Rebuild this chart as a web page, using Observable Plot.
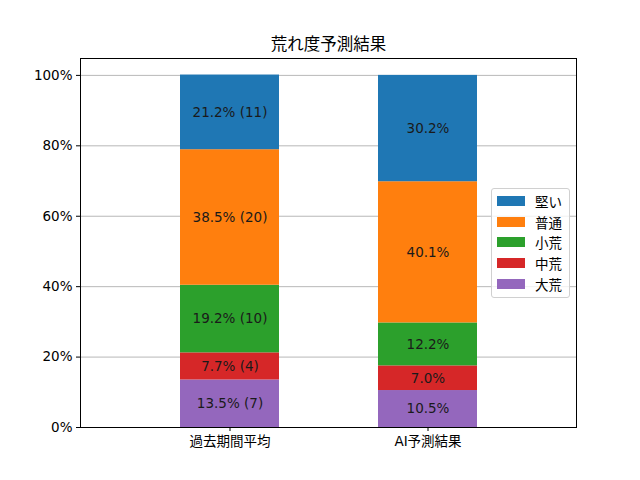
<!DOCTYPE html>
<html>
<head>
<meta charset="utf-8">
<script src="https://cdn.jsdelivr.net/npm/d3@7"></script>
<script src="https://cdn.jsdelivr.net/npm/@observablehq/plot@0.6"></script>
<style>
  body { margin: 0; background: #fff; }
  #wrap { position: relative; width: 640px; height: 480px; font-family: "DejaVu Sans", "Noto Sans CJK JP", sans-serif; }
  #legend { position: absolute; left: 491px; top: 188px; width: 79px; box-sizing: border-box; white-space: nowrap;
    border: 1px solid #d0d0d0; border-radius: 3px; background: rgba(255,255,255,0.8); padding: 2px 4px 3px 5px; font-size: 13.5px; color: #000; }
  #legend .item { display: flex; align-items: center; height: 20.6px; }
  #legend .sw { flex: none; width: 28px; height: 10px; margin-right: 10px; }
</style>
</head>
<body>
<div id="wrap"><div id="chart"></div><div id="legend"></div></div>
<script>
const title = "荒れ度予測結果";
const groups = ["過去期間平均", "AI予測結果"];
const categories = ["大荒", "中荒", "小荒", "普通", "堅い"]; // bottom to top
const colors = ["#9467bd", "#d62728", "#2ca02c", "#ff7f0e", "#1f77b4"];
const pastPercent = [13.5, 7.7, 19.2, 38.5, 21.2];
const pastCounts = [7, 4, 10, 20, 11];
const aiPercent = [10.5, 7.0, 12.2, 40.1, 30.2];
const yTicks = [0, 20, 40, 60, 80, 100];
const legendOrder = ["堅い", "普通", "小荒", "中荒", "大荒"];

const data = [];
categories.forEach((c, i) => {
  data.push({group: groups[0], cat: c, value: pastPercent[i], label: `${pastPercent[i].toFixed(1)}% (${pastCounts[i]})`});
});
categories.forEach((c, i) => {
  data.push({group: groups[1], cat: c, value: aiPercent[i], label: `${aiPercent[i].toFixed(1)}%`});
});

const font = '"DejaVu Sans", "Noto Sans CJK JP", sans-serif';
const chart = Plot.plot({
  width: 640,
  height: 480,
  marginLeft: 80,
  marginRight: 64,
  marginTop: 58,
  marginBottom: 53,
  style: {fontFamily: font, fontSize: "13.5px", color: "#000", background: "#fff"},
  x: {type: "band", domain: groups, paddingInner: 0.5, paddingOuter: 0.5, label: null},
  y: {domain: [0, 104.8], label: null},
  color: {domain: categories, range: colors},
  marks: [
    Plot.gridY(yTicks, {stroke: "#b0b0b0", strokeOpacity: 1, strokeWidth: 0.9}),
    Plot.barY(data, Plot.stackY({x: "group", y: "value", z: "cat", fill: "cat", order: categories})),
    Plot.text(data, Plot.stackY({x: "group", y: "value", z: "cat", order: categories, text: "label", fill: "#1a1a1a", fontSize: 13.5})),
    Plot.frame({stroke: "#000", strokeWidth: 1}),
    Plot.axisX({tickSize: 4, tickPadding: 5, fontSize: 13.5}),
    Plot.axisY(yTicks, {tickFormat: d => d + "%", tickSize: 4, tickPadding: 4, fontSize: 13.5}),
    Plot.text([title], {frameAnchor: "top", lineAnchor: "middle", dy: -14, fontSize: 16.5, fill: "#000"})
  ]
});
document.getElementById("chart").appendChild(chart);

const legend = document.getElementById("legend");
legendOrder.forEach(c => {
  const item = document.createElement("div");
  item.className = "item";
  const sw = document.createElement("div");
  sw.className = "sw";
  sw.style.background = colors[categories.indexOf(c)];
  const t = document.createElement("span");
  t.textContent = c;
  item.appendChild(sw);
  item.appendChild(t);
  legend.appendChild(item);
});
</script>
</body>
</html>
